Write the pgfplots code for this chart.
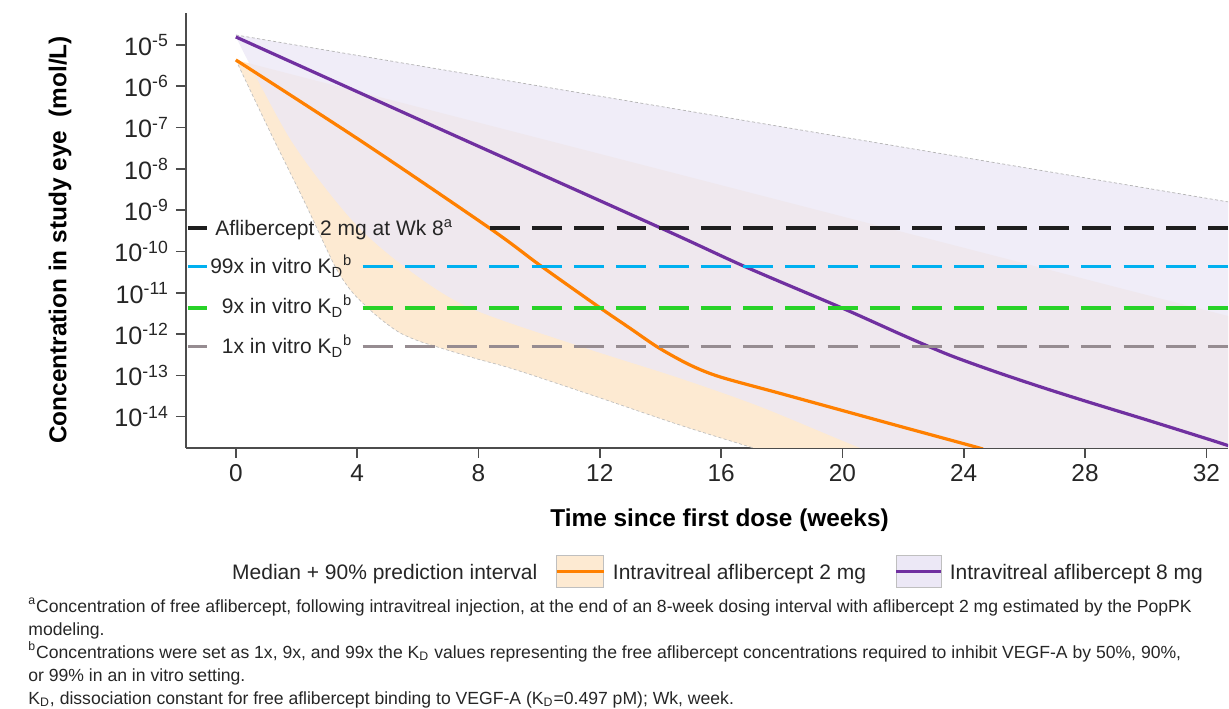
\documentclass[border=0pt]{standalone}
\usepackage{pgfplots}
\pgfplotsset{compat=1.18}
\usepgfplotslibrary{fillbetween}
\usepackage{fontspec}
\setmainfont{Liberation Sans}

\definecolor{orgline}{RGB}{255,128,0}
\definecolor{purline}{RGB}{112,48,160}
\definecolor{peach}{RGB}{253,234,210}
\definecolor{lav}{RGB}{236,232,246}
\definecolor{kblack}{RGB}{30,30,30}
\definecolor{kblue}{RGB}{0,176,240}
\definecolor{kgreen}{RGB}{40,210,40}
\definecolor{kgray}{RGB}{150,140,145}
\definecolor{txt}{RGB}{38,38,38}

\newcommand\tickfx{\fontsize{12.2bp}{14bp}\selectfont}
\newcommand\tickfy{\fontsize{12.6bp}{15bp}\selectfont}
\newcommand\labf{\bfseries\fontsize{12.2bp}{14bp}\selectfont}
\newcommand\legf{\fontsize{10.5bp}{12.6bp}\selectfont}
\newcommand\notef{\fontsize{8.8bp}{11bp}\selectfont}

\tikzset{refdash/.style={line width=1.9bp, dash pattern=on 15bp off 6.15bp},
         refseg/.style={line width=1.9bp}}

\begin{document}
\begin{tikzpicture}
\begin{axis}[
  at={(93bp,130bp)}, anchor=south west,
  scale only axis, width=521.5bp, height=217.5bp,
  xmin=-1.647, xmax=32.72,
  ymode=log, ymin=1.774e-15, ymax=5.94e-5,
  axis x line=bottom, axis y line=left,
  axis line style={-, draw=black!70, line width=0.8bp},
  xtick={0,4,8,12,16,20,24,28,32},
  xticklabels={0,4,8,12,16,20,24,28,32},
  ytick={1e-14,1e-13,1e-12,1e-11,1e-10,1e-9,1e-8,1e-7,1e-6,1e-5},
  yticklabels={10\textsuperscript{-14},10\textsuperscript{-13},10\textsuperscript{-12},10\textsuperscript{-11},10\textsuperscript{-10},10\textsuperscript{-9},10\textsuperscript{-8},10\textsuperscript{-7},10\textsuperscript{-6},10\textsuperscript{-5}},
  yminorticks=false, xminorticks=false,
  tick align=outside, major tick length=5bp,
  tick style={draw=black!70, line width=0.8bp},
  xticklabel style={font=\tickfx, text=txt},
  yticklabel style={font=\tickfy, text=txt},
  xlabel={Time since first dose (weeks)},
  ylabel={Concentration in study eye\ \ (mol/L)},
  every axis x label/.style={at={(axis description cs:0.512,-0.1678)}, anchor=center, font=\labf, text=black},
  every axis y label/.style={at={(axis description cs:-0.1208,0.478)}, rotate=90, anchor=center, font=\labf, text=black},
]
% 2 mg band
\addplot[name path=OU, draw=none, forget plot] coordinates {(0,4.335e-6) (32.72,2.735e-12)};
\addplot[name path=OL, draw=none, forget plot, smooth] coordinates {
 (0,4.335e-6) (1.153,7.244e-8) (2.273,1.549e-9) (3.262,4.498e-11) (3.8,1.122e-11)
 (4.349,4.335e-12) (4.85,2.089e-12) (5.404,1.076e-12) (6.0,6.918e-13) (6.623,4.932e-13)
 (7.9,2.570e-13) (9.226,1.368e-13) (11.993,2.877e-14) (14.629,6.31e-15) (17.035,1.774e-15)
 (19.0,6.31e-16) (22,3e-16) (32.72,1e-16)};
\addplot[fill=peach, draw=none, forget plot] fill between[of=OU and OL];
% 8 mg band
\addplot[name path=PU, draw=none, forget plot] coordinates {(0,1.746e-5) (32.72,1.585e-9)};
\addplot[name path=PL, draw=none, forget plot, smooth] coordinates {
 (0,1.563e-5) (1.812,5.023e-8) (3.822,5.834e-10) (5.568,4.256e-11) (7.710,4.335e-12)
 (11.499,4.667e-13) (14.596,8.770e-14) (17.298,1.742e-14) (20.494,1.875e-15)
 (22,7.943e-16) (32.72,1e-16)};
\addplot[fill=lav, fill opacity=0.8, draw=none, forget plot] fill between[of=PU and PL];
% band edges
\addplot[black!30, line width=0.35bp, dash pattern=on 1.5bp off 1.2bp, forget plot] coordinates {(0,1.746e-5) (32.72,1.585e-9)};
\addplot[black!25, line width=0.35bp, dash pattern=on 1.5bp off 1.2bp, smooth, forget plot] coordinates {
 (0,4.335e-6) (1.153,7.244e-8) (2.273,1.549e-9) (3.262,4.498e-11) (3.8,1.122e-11)
 (4.349,4.335e-12) (4.85,2.089e-12) (5.404,1.076e-12) (6.0,6.918e-13) (6.623,4.932e-13)
 (7.9,2.570e-13) (9.226,1.368e-13) (11.993,2.877e-14) (14.629,6.31e-15) (17.035,1.774e-15)
 (19.0,6.31e-16)};
% medians
\addplot[orgline, line width=1.6bp, smooth, forget plot] coordinates {
 (0,4.335e-6) (4.2,4.365e-8) (8.40,3.532e-10) (10.02,4.677e-11) (11.96,4.581e-12)
 (13.0,1.380e-12) (13.94,4.667e-13) (14.96,1.807e-13) (15.95,9.268e-14) (17.92,3.715e-14)
 (19.90,1.479e-14) (21.88,5.888e-15) (24.38,1.862e-15) (24.6,1.66e-15)};
\addplot[purline, line width=1.6bp, smooth, forget plot] coordinates {
 (0,1.563e-5) (7.0,7.534e-8) (14.07,3.532e-10) (16.80,4.256e-11) (19.97,4.335e-12)
 (22.0,9.333e-13) (23.5,3.162e-13) (25.0,1.259e-13) (26.5,5.370e-14) (28.0,2.399e-14)
 (30.0,8.511e-15) (32.0,2.951e-15) (32.72,1.995e-15)};
% reference levels
\addplot[kblack, refdash, forget plot] coordinates {(8.37,3.673e-10) (32.72,3.673e-10)};
\addplot[kblue, refdash, forget plot] coordinates {(4.18,4.325e-11) (32.72,4.325e-11)};
\addplot[kgreen, refdash, forget plot] coordinates {(4.18,4.256e-12) (32.72,4.256e-12)};
\addplot[kgray, refdash, forget plot] coordinates {(4.18,5.012e-13) (32.72,5.012e-13)};
\addplot[kblack, refseg, forget plot] coordinates {(-1.58,3.673e-10) (-0.955,3.673e-10)};
\addplot[kblue, refseg, forget plot] coordinates {(-1.58,4.325e-11) (-0.955,4.325e-11)};
\addplot[kgreen, refseg, forget plot] coordinates {(-1.58,4.256e-12) (-0.955,4.256e-12)};
\addplot[kgray, refseg, forget plot] coordinates {(-1.58,5.012e-13) (-0.955,5.012e-13)};
\end{axis}

\begin{scope}[x=0.5bp, y=-0.5bp, shift={(0,354bp)}]
\path (0,0) rectangle (1229,708);
% level labels
\node[anchor=base west, inner sep=0, font=\legf, text=txt] at (215,236) {Aflibercept 2 mg at Wk 8\textsuperscript{a}};
\node[anchor=base east, inner sep=0, font=\legf, text=txt] at (353,274) {99x in vitro K\textsubscript{D}\textsuperscript{b}};
\node[anchor=base east, inner sep=0, font=\legf, text=txt] at (353,314) {9x in vitro K\textsubscript{D}\textsuperscript{b}};
\node[anchor=base east, inner sep=0, font=\legf, text=txt] at (353,354) {1x in vitro K\textsubscript{D}\textsuperscript{b}};
% legend
\node[anchor=base west, inner sep=0, font=\legf, text=txt] at (232,579.5) {Median + 90\% prediction interval};
\draw[draw=black!25, fill=peach, line width=0.5bp] (557,556) rectangle (604,588);
\draw[orgline, line width=1.5bp] (557,572) -- (604,572);
\node[anchor=base west, inner sep=0, font=\legf, text=txt] at (613,579.5) {Intravitreal aflibercept 2 mg};
\draw[draw=black!25, fill=lav, line width=0.5bp] (897,556) rectangle (942,588);
\draw[purline, line width=1.5bp] (897,572) -- (942,572);
\node[anchor=base west, inner sep=0, font=\legf, text=txt] at (950,579.5) {Intravitreal aflibercept 8 mg};
% footnotes
\node[anchor=base west, inner sep=0, font=\notef, text=txt] at (28,613) {\textsuperscript{a}Concentration of free aflibercept, following intravitreal injection, at the end of an 8-week dosing interval with aflibercept 2 mg estimated by the PopPK};
\node[anchor=base west, inner sep=0, font=\notef, text=txt] at (28,636) {modeling.};
\node[anchor=base west, inner sep=0, font=\notef, text=txt] at (28,659) {\textsuperscript{b}Concentrations were set as 1x, 9x, and 99x the K\textsubscript{D} values representing the free aflibercept concentrations required to inhibit VEGF-A by 50\%, 90\%,};
\node[anchor=base west, inner sep=0, font=\notef, text=txt] at (28,682) {or 99\% in an in vitro setting.};
\node[anchor=base west, inner sep=0, font=\notef, text=txt] at (28,705) {K\textsubscript{D}, dissociation constant for free aflibercept binding to VEGF-A (K\textsubscript{D}=0.497 pM); Wk, week.};
\end{scope}
\end{tikzpicture}
\end{document}
